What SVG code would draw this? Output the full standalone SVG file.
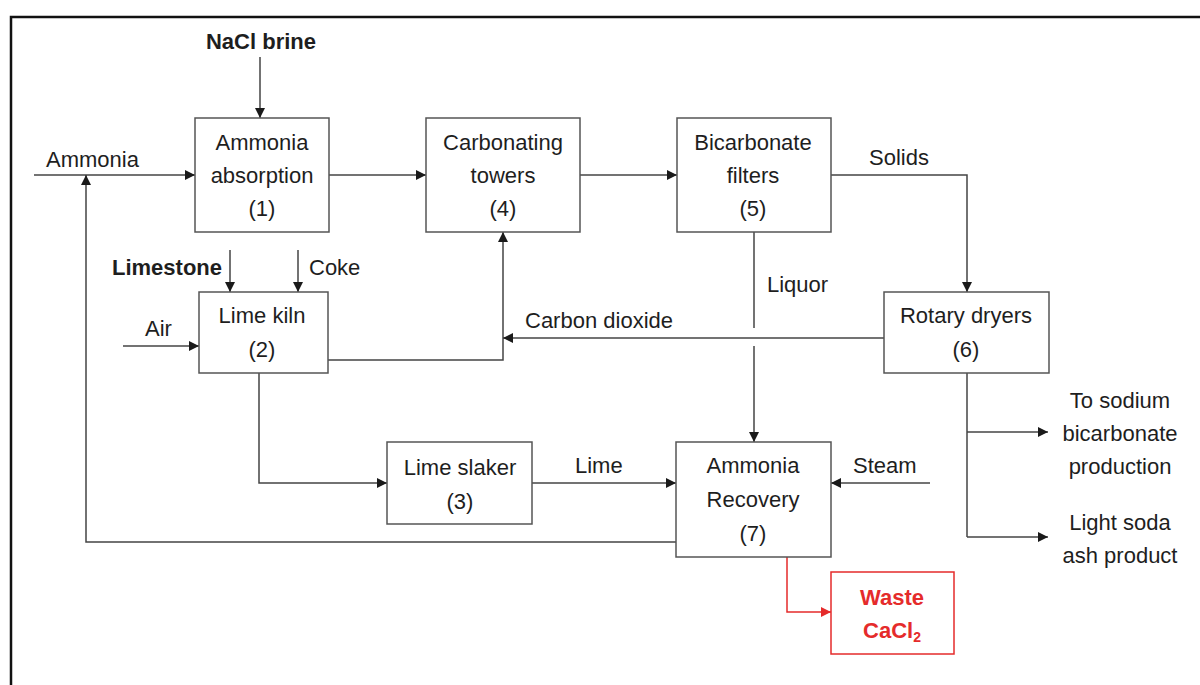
<svg xmlns="http://www.w3.org/2000/svg" width="1200" height="685" viewBox="0 0 1200 685">
<defs>
<marker id="ah" viewBox="0 0 10 10" refX="10" refY="5" markerWidth="10" markerHeight="10" markerUnits="userSpaceOnUse" orient="auto">
<path d="M0,0 L10,5 L0,10 z" fill="#1a1a1a"/>
</marker>
<marker id="ahr" viewBox="0 0 10 10" refX="10" refY="5" markerWidth="10" markerHeight="10" markerUnits="userSpaceOnUse" orient="auto">
<path d="M0,0 L10,5 L0,10 z" fill="#e52b2b"/>
</marker>
<style>
text{font-family:"Liberation Sans",Arial,sans-serif;font-size:22px;fill:#1e1e1e}
.c{text-anchor:middle}
.b{font-weight:bold}
.box{fill:#fff;stroke:#555;stroke-width:1.5}
.red{fill:#fff;stroke:#e52b2b;stroke-width:1.5}
.ln{fill:none;stroke:#444;stroke-width:1.5}
.la{fill:none;stroke:#444;stroke-width:1.5;marker-end:url(#ah)}
.lr{fill:none;stroke:#e52b2b;stroke-width:1.5;marker-end:url(#ahr)}
.rt{fill:#e52b2b;font-weight:bold}
</style>
</defs>
<rect x="0" y="0" width="1200" height="685" fill="#fff"/>
<rect x="11" y="17" width="1210" height="700" fill="none" stroke="#111" stroke-width="2.5"/>

<g id="connectors">
<path class="la" d="M260,57 V118"/>
<path class="la" d="M34,175 H195"/>
<path class="la" d="M329,175 H426"/>
<path class="la" d="M580,175 H677"/>
<path class="la" d="M831,175 H967 V292"/>
<path class="la" d="M230,250 V292"/>
<path class="la" d="M298,250 V292"/>
<path class="la" d="M123,346 H199"/>
<path class="la" d="M328,360 H503 V232"/>
<path class="la" d="M884,338 H503"/>
<path class="ln" d="M754,232 V328"/>
<path class="la" d="M754,346 V442"/>
<path class="la" d="M259,373 V483 H387"/>
<path class="la" d="M532,483 H676"/>
<path class="la" d="M930,483 H831"/>
<path class="la" d="M676,542 H86 V175"/>
<path class="ln" d="M967,373 V537"/>
<path class="la" d="M967,432 H1048"/>
<path class="la" d="M967,537 H1048"/>
<path class="lr" d="M787,557 V612 H831"/>
</g>

<g id="labels">
<text class="c b" x="261" y="49">NaCl brine</text>
<text x="46" y="167">Ammonia</text>
<text x="869" y="165">Solids</text>
<text class="b" x="112" y="275">Limestone</text>
<text x="309" y="275">Coke</text>
<text x="145" y="336">Air</text>
<text x="525" y="328">Carbon dioxide</text>
<text x="767" y="292">Liquor</text>
<text x="575" y="473">Lime</text>
<text x="853" y="473">Steam</text>
<text class="c" x="1120" y="408">To sodium</text>
<text class="c" x="1120" y="441">bicarbonate</text>
<text class="c" x="1120" y="474">production</text>
<text class="c" x="1120" y="530">Light soda</text>
<text class="c" x="1120" y="563">ash product</text>
</g>

<g id="n1">
<rect class="box" x="195" y="118" width="134" height="114"/>
<text class="c" x="262" y="150">Ammonia</text>
<text class="c" x="262" y="183">absorption</text>
<text class="c" x="262" y="216">(1)</text>
</g>
<g id="n4">
<rect class="box" x="426" y="118" width="154" height="114"/>
<text class="c" x="503" y="150">Carbonating</text>
<text class="c" x="503" y="183">towers</text>
<text class="c" x="503" y="216">(4)</text>
</g>
<g id="n5">
<rect class="box" x="677" y="118" width="154" height="114"/>
<text class="c" x="753" y="150">Bicarbonate</text>
<text class="c" x="753" y="183">filters</text>
<text class="c" x="753" y="216">(5)</text>
</g>
<g id="n2">
<rect class="box" x="199" y="292" width="129" height="81"/>
<text class="c" x="262" y="323">Lime kiln</text>
<text class="c" x="262" y="357">(2)</text>
</g>
<g id="n6">
<rect class="box" x="884" y="292" width="165" height="81"/>
<text class="c" x="966" y="323">Rotary dryers</text>
<text class="c" x="966" y="357">(6)</text>
</g>
<g id="n3">
<rect class="box" x="387" y="442" width="145" height="82"/>
<text class="c" x="460" y="475">Lime slaker</text>
<text class="c" x="460" y="509">(3)</text>
</g>
<g id="n7">
<rect class="box" x="676" y="442" width="155" height="115"/>
<text class="c" x="753" y="473">Ammonia</text>
<text class="c" x="753" y="507">Recovery</text>
<text class="c" x="753" y="541">(7)</text>
</g>
<g id="waste">
<rect class="red" x="831" y="572" width="123" height="82"/>
<text class="c rt" x="892" y="605">Waste</text>
<text class="c rt" x="892" y="638">CaCl<tspan font-size="14" dy="4">2</tspan></text>
</g>
</svg>
